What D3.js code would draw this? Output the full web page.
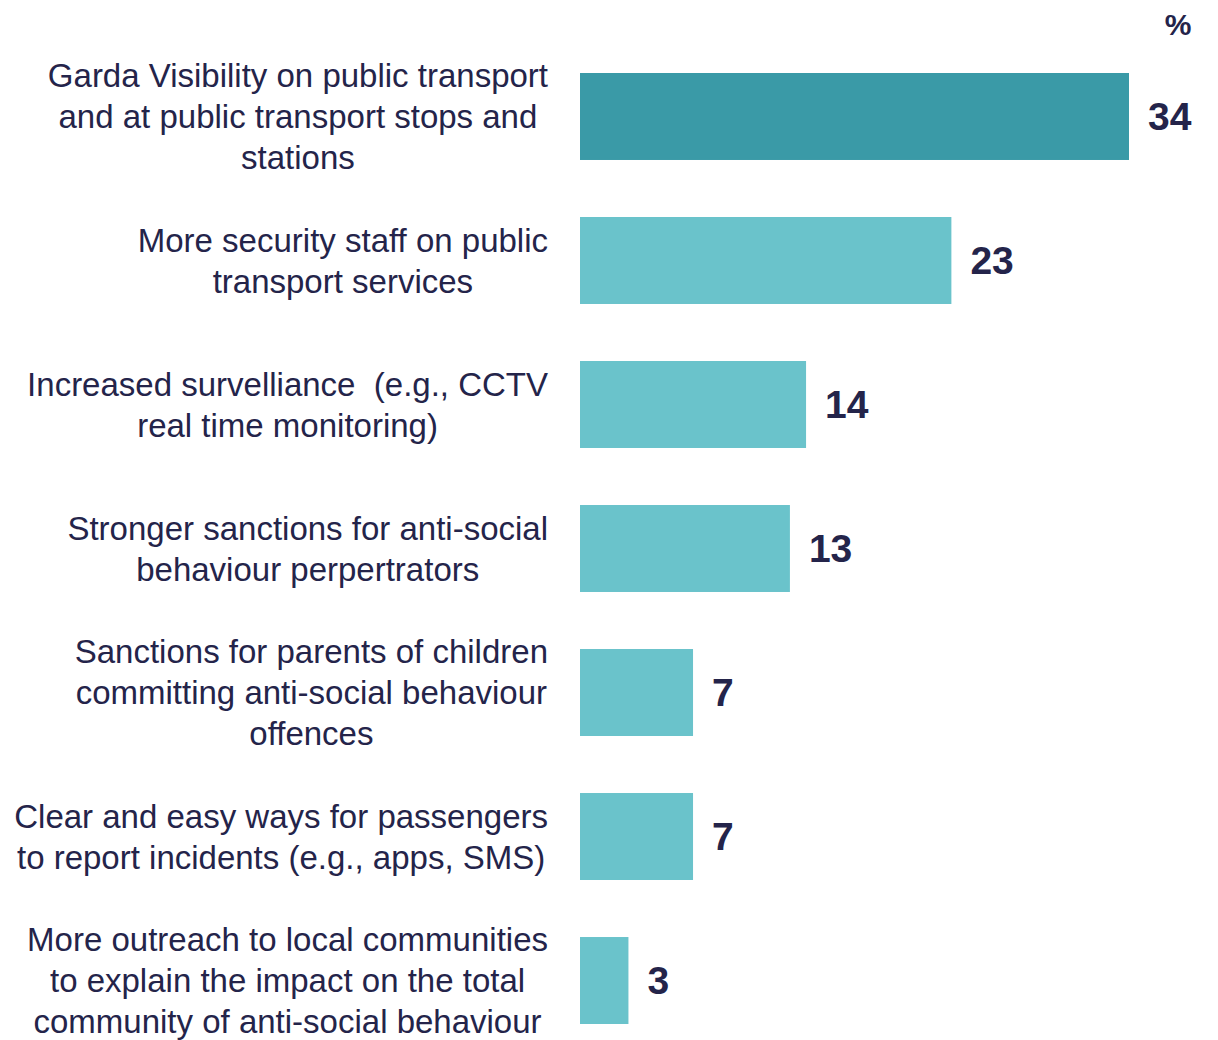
<!DOCTYPE html>
<html>
<head>
<meta charset="utf-8">
<script src="https://cdn.jsdelivr.net/npm/d3@7"></script>
<style>
  html, body { margin: 0; padding: 0; background: #ffffff; }
  svg { display: block; }
</style>
</head>
<body>
<div id="chart"></div>
<script>
// Measures that could help reduce anti-social behaviour on public transport (%)
const categories = [
  ["Garda Visibility on public transport", "and at public transport stops and", "stations"],
  ["More security staff on public", "transport services"],
  ["Increased survelliance  (e.g., CCTV", "real time monitoring)"],
  ["Stronger sanctions for anti-social", "behaviour perpertrators"],
  ["Sanctions for parents of children", "committing anti-social behaviour", "offences"],
  ["Clear and easy ways for passengers", "to report incidents (e.g., apps, SMS)"],
  ["More outreach to local communities", "to explain the impact on the total", "community of anti-social behaviour"]
];
const values = [34, 23, 14, 13, 7, 7, 3];
const unitLabel = "%";

const width = 1218, height = 1040;
const textColor = "#24244a";
const highlightColor = "#3a9aa7";
const barColor = "#6ac3cb";
const font = "'Liberation Sans', Arial, sans-serif";

const svg = d3.select("#chart").append("svg")
  .attr("width", width).attr("height", height);

const idx = d3.range(values.length);

const x = d3.scaleLinear().domain([0, 34]).range([580, 1129]);
const y = d3.scaleBand().domain(idx).range([73, 1024]).paddingInner(0.396).paddingOuter(0);

// bars
svg.selectAll("rect.bar").data(idx).join("rect")
  .attr("class", "bar")
  .attr("x", x(0))
  .attr("y", i => y(i))
  .attr("width", i => x(values[i]) - x(0))
  .attr("height", y.bandwidth())
  .attr("fill", i => i === 0 ? highlightColor : barColor);

// value labels
svg.selectAll("text.value").data(idx).join("text")
  .attr("class", "value")
  .attr("x", i => x(values[i]) + 19)
  .attr("y", i => y(i) + y.bandwidth() / 2)
  .attr("dy", "0.34em")
  .attr("font-family", font)
  .attr("font-weight", "bold")
  .attr("font-size", 39)
  .attr("fill", textColor)
  .text(i => values[i]);

// category labels: each block right-aligned at the gap before the bars, lines centred in the block
const lineH = 41;
const labelRight = 548;
const groups = svg.selectAll("g.label").data(idx).join("g").attr("class", "label");
groups.each(function(i) {
  const g = d3.select(this);
  const lines = categories[i];
  const cy = y(i) + y.bandwidth() / 2;
  const texts = g.selectAll("text").data(lines).join("text")
    .attr("font-family", font)
    .attr("font-size", 33)
    .attr("fill", textColor)
    .attr("text-anchor", "middle")
    .attr("y", (d, k) => cy + (k - (lines.length - 1) / 2) * lineH)
    .attr("dy", "0.36em")
    .style("white-space", "pre")
    .text(d => d);
  let maxW = 0;
  texts.each(function() { maxW = Math.max(maxW, this.getComputedTextLength()); });
  texts.attr("x", labelRight - maxW / 2);
});

// unit label
svg.append("text")
  .attr("x", 1178).attr("y", 24).attr("dy", "0.36em")
  .attr("text-anchor", "middle")
  .attr("font-family", font)
  .attr("font-weight", "bold")
  .attr("font-size", 30)
  .attr("fill", textColor)
  .text(unitLabel);
</script>
</body>
</html>
